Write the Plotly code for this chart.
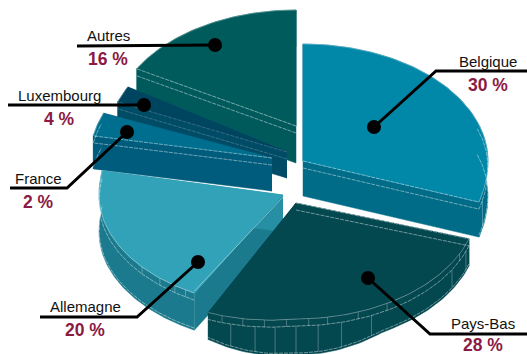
import numpy as np
import plotly.graph_objects as go

# ---- data ----
countries = ["Belgique", "Pays-Bas", "Allemagne", "France", "Luxembourg", "Autres"]
labels_pct = [30, 28, 20, 2, 4, 16]
# wedge sizes as actually drawn (they differ a little from the printed labels)
drawn_share = [30, 28, 20, 3.2, 2.0, 16.8]

# ---- geometry / style ----
APEX = {"Belgique": (303, 161), "Pays-Bas": (296, 203), "Allemagne": (283, 195),
        "France": (272, 158), "Luxembourg": (287, 152), "Autres": (296, 126)}
RX = {"Belgique": 185, "Pays-Bas": 182, "Allemagne": 184, "France": 182, "Luxembourg": 183, "Autres": 183}
RY_UP = {"Belgique": 117, "Pays-Bas": 118, "Allemagne": 130, "France": 118, "Luxembourg": 132, "Autres": 116}
RY_DN = {"Belgique": 133, "Pays-Bas": 116, "Allemagne": 112, "France": 112, "Luxembourg": 112, "Autres": 112}
SKEW_L = {"Pays-Bas": 0.09}
TAPER = {"Pays-Bas": 9}
DEPTH = {"Belgique": 35, "Pays-Bas": 36, "Allemagne": 37, "France": 33, "Luxembourg": 26, "Autres": 37}
TOP = {"Belgique": "#0187a8", "Pays-Bas": "#03474f", "Allemagne": "#31a2b8",
       "France": "#006f8f", "Luxembourg": "#004560", "Autres": "#005c5c"}
SIDE = {"Belgique": "#006c88", "Pays-Bas": "#03474f", "Allemagne": "#1b7a8d",
        "France": "#005c7c", "Luxembourg": "#004c66", "Autres": "#005a5c"}
FACE = {"Belgique": "#006c88", "Pays-Bas": "#03474f", "Allemagne": "#268fa3",
        "France": "#005c7c", "Luxembourg": "#004c66", "Autres": "#005a5c"}
LINE_ALPHA = {"Luxembourg": 0.25}
DRAW_ORDER = ["Autres", "Luxembourg", "France", "Belgique", "Allemagne", "Pays-Bas"]
BEVEL = 7
TICKS_TALL = {"Pays-Bas": [111, 121, 155.5, 165.5, 173, 180, 186.6, 193, 201], "Allemagne": [], "Belgique": [104]}
TICKS_SHORT = {"Pays-Bas": [116, 150, 160, 170, 176, 183, 190, 197, 204], "Allemagne": [212, 216, 222, 230]}
LEADERS = {
    "Belgique": ([374, 436, 527], [127, 71, 71], (374, 127), (488, 61), (488, 85)),
    "Pays-Bas": ([368, 430, 527], [278, 334, 334], (368, 278), (483, 323), (483, 344.5)),
    "Allemagne": ([198, 137, 40], [262, 317, 317], (198, 262), (85, 306), (85, 330)),
    "France": ([127, 67, 10], [132, 188, 188], (127, 132), (38, 178), (38, 202)),
    "Luxembourg": ([144, 8], [105, 105], (144, 105), (59, 95), (59, 119)),
    "Autres": ([215, 77], [45, 46], (215, 45), (108, 35), (108, 59)),
}

# wedge angles (clockwise from 12 o'clock)
edges = np.cumsum([0] + drawn_share) * 3.6
ANG = {c: (edges[i], edges[i + 1]) for i, c in enumerate(countries)}


def rim(c, a, dy=0.0):
    a = np.radians(np.asarray(a, dtype=float))
    x0, y0 = APEX[c]
    cs = np.cos(a)
    ry = np.where(cs >= 0, RY_UP[c], RY_DN[c])
    dx = RX[c] * np.sin(a)
    skew = SKEW_L.get(c, 0.0) * np.maximum(0, -dx)
    return x0 + dx, y0 - ry * cs + skew + dy


def wall(c, a):
    s = np.abs(np.sin(np.radians(np.asarray(a, dtype=float))))
    return DEPTH[c] - TAPER.get(c, 0) * np.minimum(1, (s / 0.48) ** 2)


fig = go.Figure()


def poly(xs, ys, color):
    fig.add_trace(go.Scatter(x=list(xs), y=list(ys), mode="lines", fill="toself", fillcolor=color,
                             line=dict(color=color, width=0.5), hoverinfo="skip", showlegend=False))


def line(xs, ys, color="rgba(255,255,255,0.55)", width=0.8, dash="solid"):
    fig.add_trace(go.Scatter(x=list(xs), y=list(ys), mode="lines", line=dict(color=color, width=width, dash=dash),
                             hoverinfo="skip", showlegend=False))


for c in DRAW_ORDER:
    a0, a1 = ANG[c]
    aa = np.linspace(a0, a1, 90)
    x0, y0 = APEX[c]
    d = DEPTH[c]
    rx, ry = rim(c, aa)
    wd = wall(c, aa)
    lc = f"rgba(255,255,255,{LINE_ALPHA.get(c, 0.55)})"
    # radial cut faces
    for a, col in ((a0, SIDE[c]), (a1, FACE[c])):
        ex, ey = rim(c, a)
        ex, ey = float(ex), float(ey)
        poly([x0, ex, ex, x0], [y0, ey, ey + float(wall(c, a)), y0 + d], col)
    # outer wall
    poly(np.r_[rx, rx[::-1]], np.r_[ry, (ry + wd)[::-1]], SIDE[c])
    # top face
    poly(np.r_[x0, rx, x0], np.r_[y0, ry, y0], TOP[c])
    # bevel lines on the wall
    mask = np.cos(np.radians(aa)) < 0.35
    front = aa[mask]
    if len(front) > 1:
        bx, by = rim(c, front, BEVEL)
        line(bx, by, color=lc, dash="4px,1px")
        bx, by = rim(c, front)
        line(bx, by + wd[mask] - 2, color=lc, dash="4px,1px")
    # bevel on radial edges that face the viewer
    for a in (a0, a1):
        ex, ey = rim(c, a)
        ex, ey = float(ex), float(ey)
        if ex > x0 + 40 and ey > y0 or (c in ("France", "Luxembourg", "Autres") and a == a0):
            line([x0, ex], [y0, ey], color=lc, dash="4px,1px")
            line([x0, ex], [y0 + BEVEL, ey + BEVEL], color=lc, dash="4px,1px")
        if c == "Allemagne" and a == a0:
            line([x0, ex], [y0 + 2, ey - 2], width=0.7)
    for t in TICKS_TALL.get(c, []):
        tx, ty = rim(c, t)
        line([float(tx)] * 2, [float(ty) + BEVEL, float(ty) + float(wall(c, t)) - 2],
             color="rgba(255,255,255,0.4)", width=0.7)
    for t in TICKS_SHORT.get(c, []):
        tx, ty = rim(c, t)
        line([float(tx)] * 2, [float(ty), float(ty) + BEVEL], color="rgba(255,255,255,0.4)", width=0.7)
    # thin rim highlight
    ux, uy = rim(c, aa)
    line(ux, uy, color="rgba(255,255,255,0.45)", width=0.7)

annotations = []
for c, pct in zip(countries, labels_pct):
    lx, ly, dot, name_pos, pct_pos = LEADERS[c]
    line(lx, ly, color="#000000", width=3)
    fig.add_trace(go.Scatter(x=[dot[0]], y=[dot[1]], mode="markers", marker=dict(color="#000000", size=14),
                             hoverinfo="skip", showlegend=False))
    annotations.append(dict(x=name_pos[0], y=name_pos[1], text=c, showarrow=False, xanchor="center", yanchor="middle",
                            font=dict(family="Liberation Sans", size=15, color="#111111")))
    annotations.append(dict(x=pct_pos[0], y=pct_pos[1], text=f"<b>{pct} %</b>", showarrow=False, xanchor="center",
                            yanchor="middle", font=dict(family="Liberation Sans", size=17.5, color="#8b1a44")))

fig.update_layout(width=527, height=354, margin=dict(l=0, r=0, t=0, b=0), paper_bgcolor="white", plot_bgcolor="white",
                  xaxis=dict(range=[0, 527], visible=False, fixedrange=True),
                  yaxis=dict(range=[354, 0], visible=False, fixedrange=True),
                  annotations=annotations, showlegend=False)
fig.write_html("out.html", config={"displayModeBar": False},
               post_script="document.body.style.margin='0';")
